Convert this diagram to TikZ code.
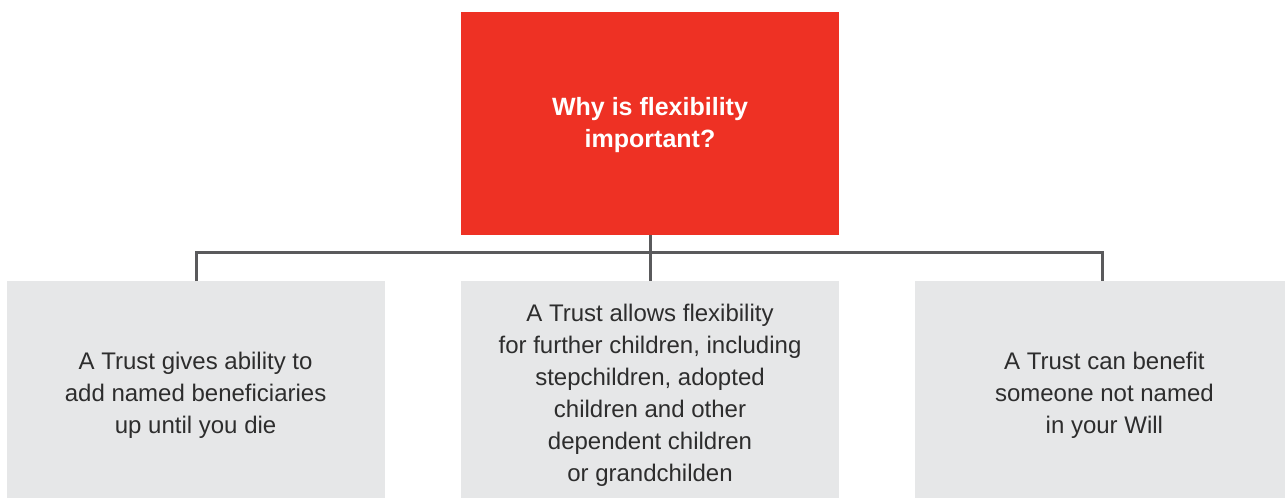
\documentclass[tikz,border=0pt]{standalone}
\usepackage{fontspec}
\setmainfont{Liberation Sans}
\definecolor{whyred}{RGB}{238, 49, 36}
\definecolor{boxgrey}{RGB}{230, 231, 232}
\definecolor{linegrey}{RGB}{90, 90, 92}
\definecolor{textgrey}{RGB}{45, 45, 45}
\usetikzlibrary{positioning, calc}

\begin{document}
\begin{tikzpicture}[
    question/.style={fill=whyred, minimum width=378pt, minimum height=223pt},
    reason/.style={fill=boxgrey, minimum width=378pt, minimum height=217pt},
    questiontext/.style={text=white, align=center, font=\fontsize{25}{32}\selectfont\bfseries},
    reasontext/.style={text=textgrey, align=center, font=\fontsize{24}{32}\selectfont},
    link/.style={draw=linegrey, line width=3pt}
  ]
  \useasboundingbox (0pt,0pt) rectangle (1285pt,-498pt);

  \node[question] (why) at (650pt,-123.5pt) {};
  \node[questiontext] (whytext) at ([yshift=-2pt]why.center) {Why is flexibility\\important?};

  % the three reasons
  \node[reason, below=46pt of why] (children) {};
  \node[reason, left=76pt of children] (named) {};
  \node[reason, right=76pt of children] (notnamed) {};
  \node[reasontext] (childrentext) at ([yshift=-5pt]children.center) {A Trust allows flexibility\\for further children, including\\stepchildren, adopted\\children and other\\dependent children\\or grandchilden};
  \node[reasontext] (namedtext) at ([yshift=-5pt]named.center) {A Trust gives ability to\\add named beneficiaries\\up until you die};
  \node[reasontext] (notnamedtext) at ([yshift=-5pt]notnamed.center) {A Trust can benefit\\someone not named\\in your Will};

  % connectors
  \coordinate (bar) at ($(why.south)+(0,-17pt)$);
  \draw[link] (why.south) -- (children.north);
  \draw[link] ([xshift=1pt]named.north) |- (bar) -| ([xshift=-2pt]notnamed.north);
\end{tikzpicture}
\end{document}
